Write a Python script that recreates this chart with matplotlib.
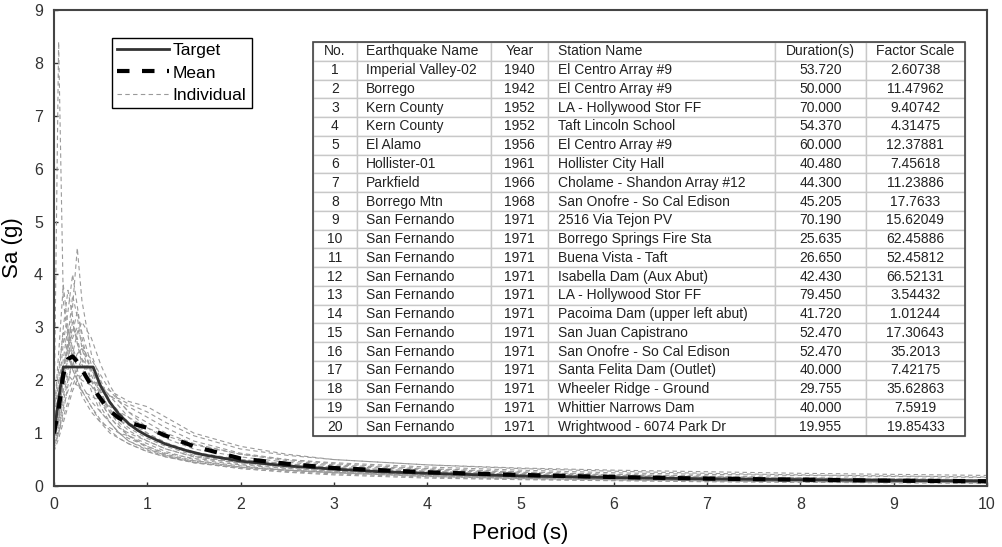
import matplotlib
matplotlib.use("Agg")
import matplotlib.pyplot as plt
from matplotlib.patches import Rectangle

plt.rcParams['font.family'] = ['Liberation Sans', 'DejaVu Sans']

periods = [0, 0.05, 0.1, 0.15, 0.2, 0.25, 0.3, 0.4, 0.5, 0.6, 0.7, 0.8, 1.0,
           1.2, 1.5, 2.0, 2.5, 3.0, 4.0, 5.0, 6.0, 7.0, 8.0, 9.0, 10.0]

# individual scaled record spectra (Sa in g)
individual = [
    [1.0, 1.5, 2.2, 2.6, 3.0, 2.8, 2.4, 2.0, 1.6, 1.3, 1.1, 1.0, 0.85, 0.7, 0.55, 0.45, 0.38, 0.32, 0.25, 0.2, 0.16, 0.13, 0.11, 0.1, 0.08],
    [1.1, 8.4, 3.5, 2.8, 2.2, 2.0, 1.8, 1.5, 1.2, 1.0, 0.9, 0.8, 0.65, 0.55, 0.45, 0.35, 0.3, 0.26, 0.2, 0.15, 0.12, 0.1, 0.09, 0.08, 0.07],
    [0.9, 1.3, 2.0, 2.5, 3.4, 4.5, 3.5, 2.5, 2.0, 1.6, 1.4, 1.2, 1.0, 0.8, 0.6, 0.5, 0.42, 0.35, 0.28, 0.22, 0.18, 0.15, 0.13, 0.11, 0.1],
    [1.2, 2.0, 3.0, 3.7, 3.2, 2.7, 2.4, 1.8, 1.4, 1.2, 1.0, 0.9, 0.75, 0.6, 0.48, 0.38, 0.3, 0.26, 0.2, 0.16, 0.14, 0.12, 0.1, 0.09, 0.08],
    [0.8, 1.1, 1.6, 2.0, 2.3, 2.5, 2.6, 2.4, 2.1, 1.8, 1.6, 1.5, 1.3, 1.1, 0.85, 0.62, 0.5, 0.42, 0.33, 0.27, 0.22, 0.19, 0.16, 0.14, 0.12],
    [1.0, 1.6, 2.4, 3.0, 2.6, 2.2, 1.9, 1.6, 1.4, 1.2, 1.0, 0.85, 0.7, 0.58, 0.47, 0.36, 0.3, 0.25, 0.18, 0.14, 0.12, 0.1, 0.08, 0.07, 0.06],
    [0.7, 1.0, 1.4, 1.9, 2.5, 2.9, 3.1, 2.8, 2.3, 1.9, 1.6, 1.4, 1.1, 0.9, 0.7, 0.55, 0.45, 0.38, 0.3, 0.24, 0.2, 0.17, 0.15, 0.13, 0.11],
    [1.3, 2.5, 3.8, 3.0, 2.4, 2.0, 1.7, 1.4, 1.2, 1.1, 1.0, 0.95, 0.8, 0.65, 0.5, 0.4, 0.33, 0.28, 0.22, 0.18, 0.15, 0.13, 0.12, 0.1, 0.09],
    [0.9, 1.2, 1.8, 2.2, 2.6, 2.4, 2.2, 2.0, 1.9, 1.8, 1.7, 1.6, 1.5, 1.3, 1.0, 0.75, 0.6, 0.5, 0.4, 0.33, 0.28, 0.24, 0.21, 0.19, 0.17],
    [1.0, 1.4, 2.1, 2.8, 3.6, 3.2, 2.6, 2.0, 1.5, 1.2, 1.0, 0.85, 0.68, 0.56, 0.45, 0.33, 0.27, 0.23, 0.17, 0.13, 0.11, 0.09, 0.08, 0.07, 0.06],
    [0.75, 1.0, 1.5, 1.8, 2.0, 2.2, 2.4, 2.2, 1.9, 1.7, 1.6, 1.4, 1.2, 1.0, 0.8, 0.6, 0.48, 0.4, 0.32, 0.26, 0.21, 0.18, 0.15, 0.13, 0.12],
    [1.1, 1.8, 2.7, 3.3, 4.0, 3.4, 2.8, 2.1, 1.7, 1.4, 1.2, 1.05, 0.85, 0.7, 0.56, 0.42, 0.34, 0.28, 0.21, 0.16, 0.13, 0.11, 0.09, 0.08, 0.07],
    [0.85, 1.2, 1.7, 2.1, 2.0, 1.9, 1.8, 1.7, 1.6, 1.3, 1.1, 0.95, 0.75, 0.62, 0.52, 0.44, 0.38, 0.33, 0.27, 0.22, 0.19, 0.16, 0.14, 0.12, 0.11],
    [1.2, 1.7, 2.3, 2.6, 2.9, 3.3, 2.9, 2.3, 1.8, 1.4, 1.15, 0.95, 0.72, 0.58, 0.44, 0.33, 0.26, 0.21, 0.15, 0.12, 0.1, 0.08, 0.07, 0.06, 0.05],
    [0.8, 1.0, 1.3, 1.6, 1.9, 2.1, 2.0, 1.9, 1.7, 1.5, 1.4, 1.3, 1.1, 0.95, 0.78, 0.6, 0.5, 0.44, 0.36, 0.3, 0.25, 0.22, 0.2, 0.18, 0.16],
    [1.4, 2.2, 2.9, 2.5, 2.2, 2.0, 1.8, 1.5, 1.25, 1.05, 0.9, 0.8, 0.65, 0.55, 0.44, 0.35, 0.29, 0.25, 0.19, 0.15, 0.12, 0.1, 0.09, 0.08, 0.07],
    [0.9, 1.3, 1.9, 2.4, 2.8, 3.0, 2.7, 2.2, 1.9, 1.7, 1.5, 1.3, 1.0, 0.82, 0.64, 0.5, 0.42, 0.35, 0.27, 0.22, 0.18, 0.15, 0.13, 0.12, 0.1],
    [1.0, 1.5, 2.2, 2.7, 3.1, 2.7, 2.3, 1.9, 1.6, 1.4, 1.25, 1.15, 0.95, 0.8, 0.62, 0.46, 0.38, 0.32, 0.25, 0.2, 0.17, 0.15, 0.13, 0.12, 0.11],
    [0.95, 1.3, 2.0, 2.4, 2.3, 2.5, 2.6, 2.2, 1.75, 1.45, 1.25, 1.1, 0.9, 0.75, 0.58, 0.44, 0.36, 0.3, 0.23, 0.18, 0.15, 0.12, 0.1, 0.09, 0.08],
    [0.65, 0.9, 1.2, 1.5, 1.8, 2.0, 2.1, 2.0, 1.8, 1.7, 1.65, 1.55, 1.4, 1.2, 0.95, 0.7, 0.58, 0.5, 0.4, 0.34, 0.3, 0.27, 0.24, 0.22, 0.2],
]

mean_sa = [1.0, 1.45, 2.1, 2.4, 2.45, 2.35, 2.2, 1.9, 1.65, 1.42, 1.28, 1.2, 1.1,
           0.95, 0.75, 0.52, 0.42, 0.34, 0.26, 0.21, 0.17, 0.14, 0.12, 0.1, 0.09]

target_t = [0, 0.1, 0.42, 0.5, 0.6, 0.7, 0.8, 0.9, 1.0, 1.2, 1.4, 1.6, 1.8, 2.0,
            2.5, 3.0, 3.5, 4.0, 5.0, 6.0, 7.0, 8.0, 9.0, 10.0]
target_sa = [1.0, 2.25, 2.25, 1.89, 1.58, 1.35, 1.18, 1.05, 0.95, 0.79, 0.68, 0.59,
             0.53, 0.47, 0.38, 0.32, 0.27, 0.24, 0.19, 0.16, 0.135, 0.12, 0.105, 0.095]

# table of selected records
col_labels = ["No.", "Earthquake Name", "Year", "Station Name", "Duration(s)", "Factor Scale"]
eq_names = ["Imperial Valley-02", "Borrego", "Kern County", "Kern County", "El Alamo",
            "Hollister-01", "Parkfield", "Borrego Mtn"] + ["San Fernando"] * 12
years = ["1940", "1942", "1952", "1952", "1956", "1961", "1966", "1968"] + ["1971"] * 12
stations = ["El Centro Array #9", "El Centro Array #9", "LA - Hollywood Stor FF",
            "Taft Lincoln School", "El Centro Array #9", "Hollister City Hall",
            "Cholame - Shandon Array #12", "San Onofre - So Cal Edison",
            "2516 Via Tejon PV", "Borrego Springs Fire Sta", "Buena Vista - Taft",
            "Isabella Dam (Aux Abut)", "LA - Hollywood Stor FF",
            "Pacoima Dam (upper left abut)", "San Juan Capistrano",
            "San Onofre - So Cal Edison", "Santa Felita Dam (Outlet)",
            "Wheeler Ridge - Ground", "Whittier Narrows Dam", "Wrightwood - 6074 Park Dr"]
durations = ["53.720", "50.000", "70.000", "54.370", "60.000", "40.480", "44.300",
             "45.205", "70.190", "25.635", "26.650", "42.430", "79.450", "41.720",
             "52.470", "52.470", "40.000", "29.755", "40.000", "19.955"]
factors = ["2.60738", "11.47962", "9.40742", "4.31475", "12.37881", "7.45618",
           "11.23886", "17.7633", "15.62049", "62.45886", "52.45812", "66.52131",
           "3.54432", "1.01244", "17.30643", "35.2013", "7.42175", "35.62863",
           "7.5919", "19.85433"]

fig = plt.figure(figsize=(10.03, 5.47), dpi=100)
ax = fig.add_axes([0.0538, 0.1115, 0.9302, 0.8702])

for i, sa in enumerate(individual):
    ax.plot(periods, sa, color="#9a9a9a", lw=0.8, dashes=(4, 3),
            label="Individual" if i == 0 else None)
ax.plot(target_t, target_sa, color="#333333", lw=2.0, label="Target")
ax.plot(periods, mean_sa, color="black", lw=3.0, dashes=(3, 3), label="Mean")

ax.set_xlim(0, 10)
ax.set_ylim(0, 9)
ax.set_xticks(range(0, 11))
ax.set_yticks(range(0, 10))
ax.set_xlabel("Period (s)", fontsize=16, labelpad=8)
ax.set_ylabel("Sa (g)", fontsize=16, labelpad=8)
ax.tick_params(direction="in", length=3, width=1, labelsize=11.5, colors="#333333",
               pad=8)
for sp in ax.spines.values():
    sp.set_color("#444444")
    sp.set_linewidth(1.5)

handles, labels = ax.get_legend_handles_labels()
order = [labels.index(n) for n in ["Target", "Mean", "Individual"]]
leg = ax.legend([handles[k] for k in order], [labels[k] for k in order],
                loc="upper left", bbox_to_anchor=(0.062, 0.941), borderaxespad=0,
                fontsize=12.5, fancybox=False, framealpha=1, edgecolor="black",
                handlelength=3.0, handletextpad=0.2, borderpad=0.3, labelspacing=0.4)
leg.get_frame().set_linewidth(1.0)

cell_text = [[str(i + 1), eq_names[i], years[i], stations[i], durations[i], factors[i]]
             for i in range(20)]
widths = [44, 134, 57, 227, 91, 99]
tot = sum(widths)
tbl = ax.table(cellText=cell_text, colLabels=col_labels,
               colWidths=[w / tot for w in widths],
               bbox=[0.2776, 0.105, 0.6988, 0.8277], cellLoc="center")
tbl.auto_set_font_size(False)
tbl.set_fontsize(10)
for (r, c), cell in tbl.get_celld().items():
    cell.set_edgecolor("#c8c8c8")
    cell.set_linewidth(1.0)
    cell.get_text().set_color("#222222")
    if c in (1, 3):
        cell.set_text_props(ha="left")
        cell._loc = "left"
        cell.PAD = 0.07 if c == 1 else 0.045
ax.add_patch(Rectangle((0.2776, 0.105), 0.6988, 0.8277, transform=ax.transAxes,
                       fill=False, edgecolor="#444444", lw=1.2, zorder=10))

fig.savefig("out.png", dpi=100)
